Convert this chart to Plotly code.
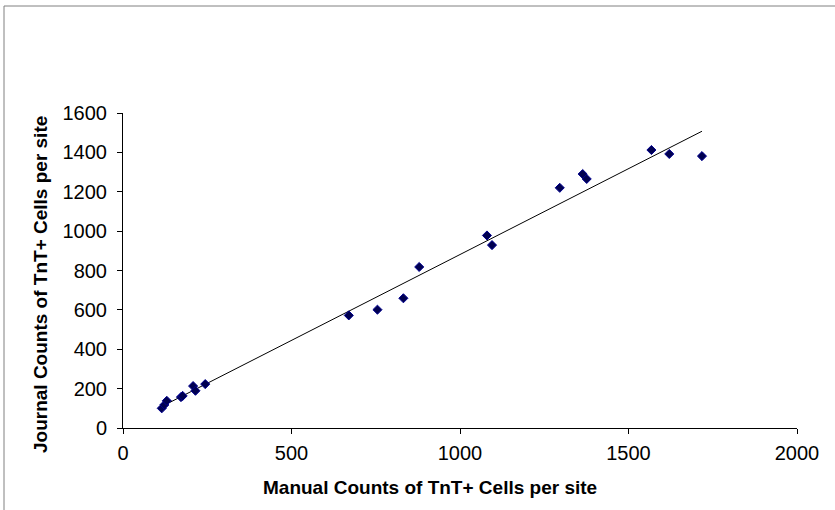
import numpy as np
import plotly.graph_objects as go

# Manual vs. automated ("journal") counts of TnT+ cells per imaging site
manual_counts = [115, 123, 130, 172, 177, 208, 215, 244, 670, 755, 832, 879,
                 1080, 1095, 1296, 1364, 1376, 1568, 1621, 1718]
journal_counts = [100, 118, 138, 157, 163, 213, 189, 223, 572, 601, 659, 818,
                  978, 929, 1220, 1290, 1265, 1412, 1392, 1381]

x_ticks = [0, 500, 1000, 1500, 2000]
y_ticks = [0, 200, 400, 600, 800, 1000, 1200, 1400, 1600]

# Linear trendline over the range of the manual counts
slope, intercept = np.polyfit(manual_counts, journal_counts, 1)
fit_x = np.array([min(manual_counts), max(manual_counts)])
fit_y = slope * fit_x + intercept

fig = go.Figure()
fig.add_trace(go.Scatter(
    x=fit_x, y=fit_y, mode="lines",
    line=dict(color="black", width=1),
    hoverinfo="skip", showlegend=False,
))
fig.add_trace(go.Scatter(
    x=manual_counts, y=journal_counts, mode="markers",
    marker=dict(symbol="diamond", size=7, color="#000050",
                line=dict(color="#000090", width=1)),
    showlegend=False,
))

W, H = 835, 510
L, R, T, B = 123, 38, 113, 82
pw, ph = W - L - R, H - T - B


def px_x(p):
    return (p - L) / pw


def px_y(p):
    return (H - B - p) / ph


font = "Liberation Sans, Arial, sans-serif"

fig.update_layout(
    width=W, height=H,
    margin=dict(l=L, r=R, t=T, b=B),
    paper_bgcolor="white", plot_bgcolor="white",
    font=dict(family=font, color="black", size=20),
    xaxis=dict(range=[0, 2000], tickvals=x_ticks, showgrid=False, zeroline=False,
               showline=True, linecolor="black", linewidth=1,
               ticks="outside", ticklen=5, tickcolor="black",
               tickfont=dict(size=20), ticklabelstandoff=2),
    yaxis=dict(range=[0, 1600], tickvals=y_ticks, showgrid=False, zeroline=False,
               showline=True, linecolor="black", linewidth=1,
               ticks="outside", ticklen=5, tickcolor="black",
               tickfont=dict(size=20), ticklabelstandoff=6),
    annotations=[
        dict(text="<b>Manual Counts of TnT+ Cells per site</b>",
             xref="paper", yref="paper", x=px_x(430), y=px_y(487),
             showarrow=False, font=dict(size=19), xanchor="center", yanchor="middle"),
        dict(text="<b>Journal Counts of TnT+ Cells per site</b>",
             xref="paper", yref="paper", x=px_x(40), y=px_y(285), textangle=-90,
             showarrow=False, font=dict(size=19), xanchor="center", yanchor="middle"),
    ],
    shapes=[
        dict(type="line", xref="paper", yref="paper",
             x0=px_x(4), y0=px_y(6), x1=px_x(W + 5), y1=px_y(6),
             line=dict(color="#808080", width=1)),
        dict(type="line", xref="paper", yref="paper",
             x0=px_x(4), y0=px_y(6), x1=px_x(4), y1=px_y(H + 5),
             line=dict(color="#808080", width=1)),
    ],
)

fig.write_html("out.html")
